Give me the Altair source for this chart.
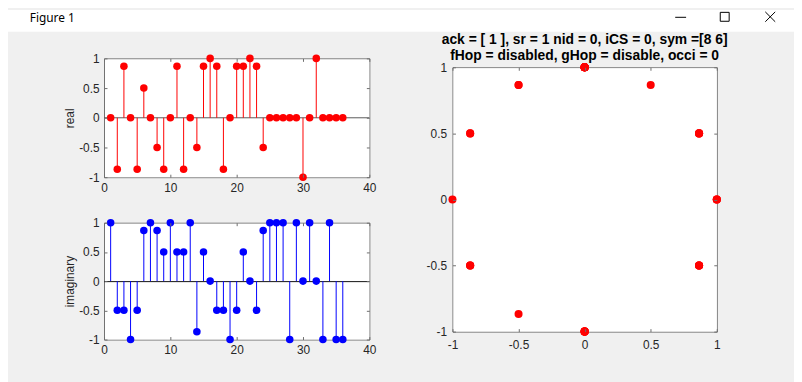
import altair as alt
import pandas as pd

# ---------------- data ----------------
n = list(range(1, 37))
real = [0, -0.866, 0.866, 0, -0.866, 0.5, 0, -0.5, -0.866, 0,
        0.866, -0.866, 0, -0.5, 0.866, 1, 0.866, -0.866, 0, 0.866,
        0.866, 1, 0.866, -0.5, 0, 0, 0, 0, 0, -1,
        0, 1, 0, 0, 0, 0]
imag = [1, -0.5, -0.5, -1, -0.5, 0.866, 1, 0.866, 0.5, 1,
        0.5, 0.5, 1, -0.866, 0.5, 0, -0.5, -0.5, -1, -0.5,
        0.5, 0, -0.5, 0.866, 1, 1, 1, -1, 1, 0,
        1, 0, -1, 1, -1, -1]
stem_x_domain = [0, 40]
stem_x_ticks = [0, 10, 20, 30, 40]
unit_domain = [-1, 1]
unit_ticks = [-1, -0.5, 0, 0.5, 1]
title_lines = ["ack = [ 1 ], sr = 1 nid = 0, iCS = 0, sym =[8 6]",
               "fHop = disabled, gHop = disable, occi = 0"]
window_title = "Figure 1"

# ---------------- layout / style ----------------
W, H = 794, 374
FONT = "Liberation Sans, Arial, Helvetica, sans-serif"
TEXT = "#262626"
FRAME = "#6e6e6e"
TICK = 3

P1 = dict(x0=97, x1=365, y0=49, y1=169)
P2 = dict(x0=97, x1=365, y0=215, y1=333)
P3 = dict(x0=449, x1=716, y0=58, y1=325)

one = pd.DataFrame({"a": [0]})


def axis(orient, at, values=None, labels=False, ticks=False, domain=False,
         z=0, pad=5, title=None):
    off = {"bottom": at - H, "top": -at, "left": -at, "right": at - W}[orient]
    kw = dict(orient=orient, offset=off, grid=False, labels=labels, ticks=ticks,
              domain=domain, zindex=z, domainColor=FRAME, domainWidth=1,
              tickColor=FRAME, tickWidth=1, tickSize=TICK if ticks else 0)
    if values is not None:
        kw["values"] = values
    if labels:
        kw.update(labelFont=FONT, labelFontSize=12, labelColor=TEXT,
                  labelPadding=pad, labelFlush=False, labelOverlap=False,
                  labelExpr="'' + datum.value")
    if title:
        kw.update(title=title, titleFont=FONT, titleFontSize=12,
                  titleFontWeight="normal", titleColor=TEXT, titlePadding=2)
    else:
        kw["title"] = None
    return alt.Axis(**kw)


def panel_axes(box, xt, yt, xpad, ypad, ytitle):
    """four axis pairs: labelled, far-side frame, inward ticks near, inward ticks far"""
    return [
        (axis("bottom", box["y1"], xt, labels=True, domain=True, pad=xpad),
         axis("left", box["x0"], yt, labels=True, domain=True, pad=ypad, title=ytitle)),
        (axis("top", box["y0"], xt, domain=True),
         axis("right", box["x1"], yt, domain=True)),
        (axis("top", box["y1"], xt, ticks=True, z=1),
         axis("right", box["x0"], yt, ticks=True, z=1)),
        (axis("bottom", box["y0"], xt, ticks=True, z=1),
         axis("left", box["x1"], yt, ticks=True, z=1)),
    ]


def scales(box, xdom, ydom):
    xs = alt.Scale(domain=xdom, range=[box["x0"], box["x1"]], nice=False, zero=False)
    ys = alt.Scale(domain=ydom, range=[box["y1"], box["y0"]], nice=False, zero=False)
    return xs, ys


def bg_layer(box, xdom, ydom, ax):
    xs, ys = scales(box, xdom, ydom)
    return alt.Chart(one).mark_rect(color="white", xOffset=1, yOffset=1).encode(
        x=alt.X(datum=xdom[0], scale=xs, axis=ax[0]),
        x2=alt.X2(datum=xdom[1]),
        y=alt.Y(datum=ydom[1], scale=ys, axis=ax[1]),
        y2=alt.Y2(datum=ydom[0]),
    )


def stem_panel(values, box, color, ytitle, base_color, base_dy):
    df = pd.DataFrame({"n": n, "v": values})
    xs, ys = scales(box, stem_x_domain, unit_domain)
    axs = panel_axes(box, stem_x_ticks, unit_ticks, 5, 5, ytitle)
    bg = bg_layer(box, stem_x_domain, unit_domain, axs[0])
    base = alt.Chart(one).mark_rule(color=base_color, strokeWidth=1, yOffset=base_dy).encode(
        x=alt.X(datum=stem_x_domain[0], scale=xs, axis=axs[1][0]),
        x2=alt.X2(datum=stem_x_domain[1]),
        y=alt.Y(datum=0, scale=ys, axis=axs[1][1]),
    )
    stems = alt.Chart(df).mark_rule(color=color, strokeWidth=1).encode(
        x=alt.X("n:Q", scale=xs, axis=axs[2][0]),
        y=alt.Y("v:Q", scale=ys, axis=axs[2][1]),
        y2=alt.Y2(datum=0),
    )
    pts = alt.Chart(df).mark_circle(color=color, size=58, opacity=1).encode(
        x=alt.X("n:Q", scale=xs, axis=axs[3][0]),
        y=alt.Y("v:Q", scale=ys, axis=axs[3][1]),
    )
    return [bg, base, stems, pts]


def scatter_panel(box):
    df = pd.DataFrame({"re": real, "im": imag})
    xs, ys = scales(box, unit_domain, unit_domain)
    axs = panel_axes(box, unit_ticks, unit_ticks, 8, 6, None)
    bg = bg_layer(box, unit_domain, unit_domain, axs[0])
    layers = [bg]
    for k in (1, 2):
        layers.append(alt.Chart(df).mark_circle(opacity=0, size=10).encode(
            x=alt.X("re:Q", scale=xs, axis=axs[k][0]),
            y=alt.Y("im:Q", scale=ys, axis=axs[k][1]),
        ))
    layers.append(alt.Chart(df).mark_circle(color="#ff0000", size=66, opacity=1).encode(
        x=alt.X("re:Q", scale=xs, axis=axs[3][0]),
        y=alt.Y("im:Q", scale=ys, axis=axs[3][1]),
    ))
    cx = (box["x0"] + box["x1"]) / 2
    for i, line in enumerate(title_lines):
        layers.append(alt.Chart(one).mark_text(
            text=line, font=FONT, fontSize=14, fontWeight="bold", align="center",
            baseline="alphabetic", color="black").encode(
            x=alt.value(cx), y=alt.value(34 + 16.5 * i)))
    return layers


# window chrome (title bar)
chrome = [
    alt.Chart(one).mark_rect(color="white").encode(
        x=alt.value(0), x2=alt.value(W), y=alt.value(0), y2=alt.value(22)),
    alt.Chart(one).mark_text(text=window_title, font="Noto Sans, DejaVu Sans, sans-serif",
                             fontSize=12, align="left", baseline="alphabetic",
                             color="black").encode(x=alt.value(22), y=alt.value(12.5)),
    alt.Chart(one).mark_rule(color="black", strokeWidth=1).encode(
        x=alt.value(674), x2=alt.value(685), y=alt.value(7.5), y2=alt.value(7.5)),
    alt.Chart(one).mark_rect(filled=False, stroke="black", strokeWidth=1).encode(
        x=alt.value(719.5), x2=alt.value(728.5), y=alt.value(2.5), y2=alt.value(11.5)),
    alt.Chart(one).mark_rule(color="black", strokeWidth=1).encode(
        x=alt.value(765), x2=alt.value(775), y=alt.value(2), y2=alt.value(12)),
    alt.Chart(one).mark_rule(color="black", strokeWidth=1).encode(
        x=alt.value(765), x2=alt.value(775), y=alt.value(12), y2=alt.value(2)),
]

layers = (chrome
          + stem_panel(real, P1, "#ff0000", "real", "#5a5a5a", 0)
          + stem_panel(imag, P2, "#0000ff", "imaginary", "#111111", 0.5)
          + scatter_panel(P3))

chart = alt.layer(*layers).resolve_scale(
    x="independent", y="independent"
).properties(
    width=W, height=H, padding=0, autosize="none", background="#f0f0f0"
).configure_view(stroke=None)

chart.save("out.html", embed_options={"renderer": "svg", "actions": False})
